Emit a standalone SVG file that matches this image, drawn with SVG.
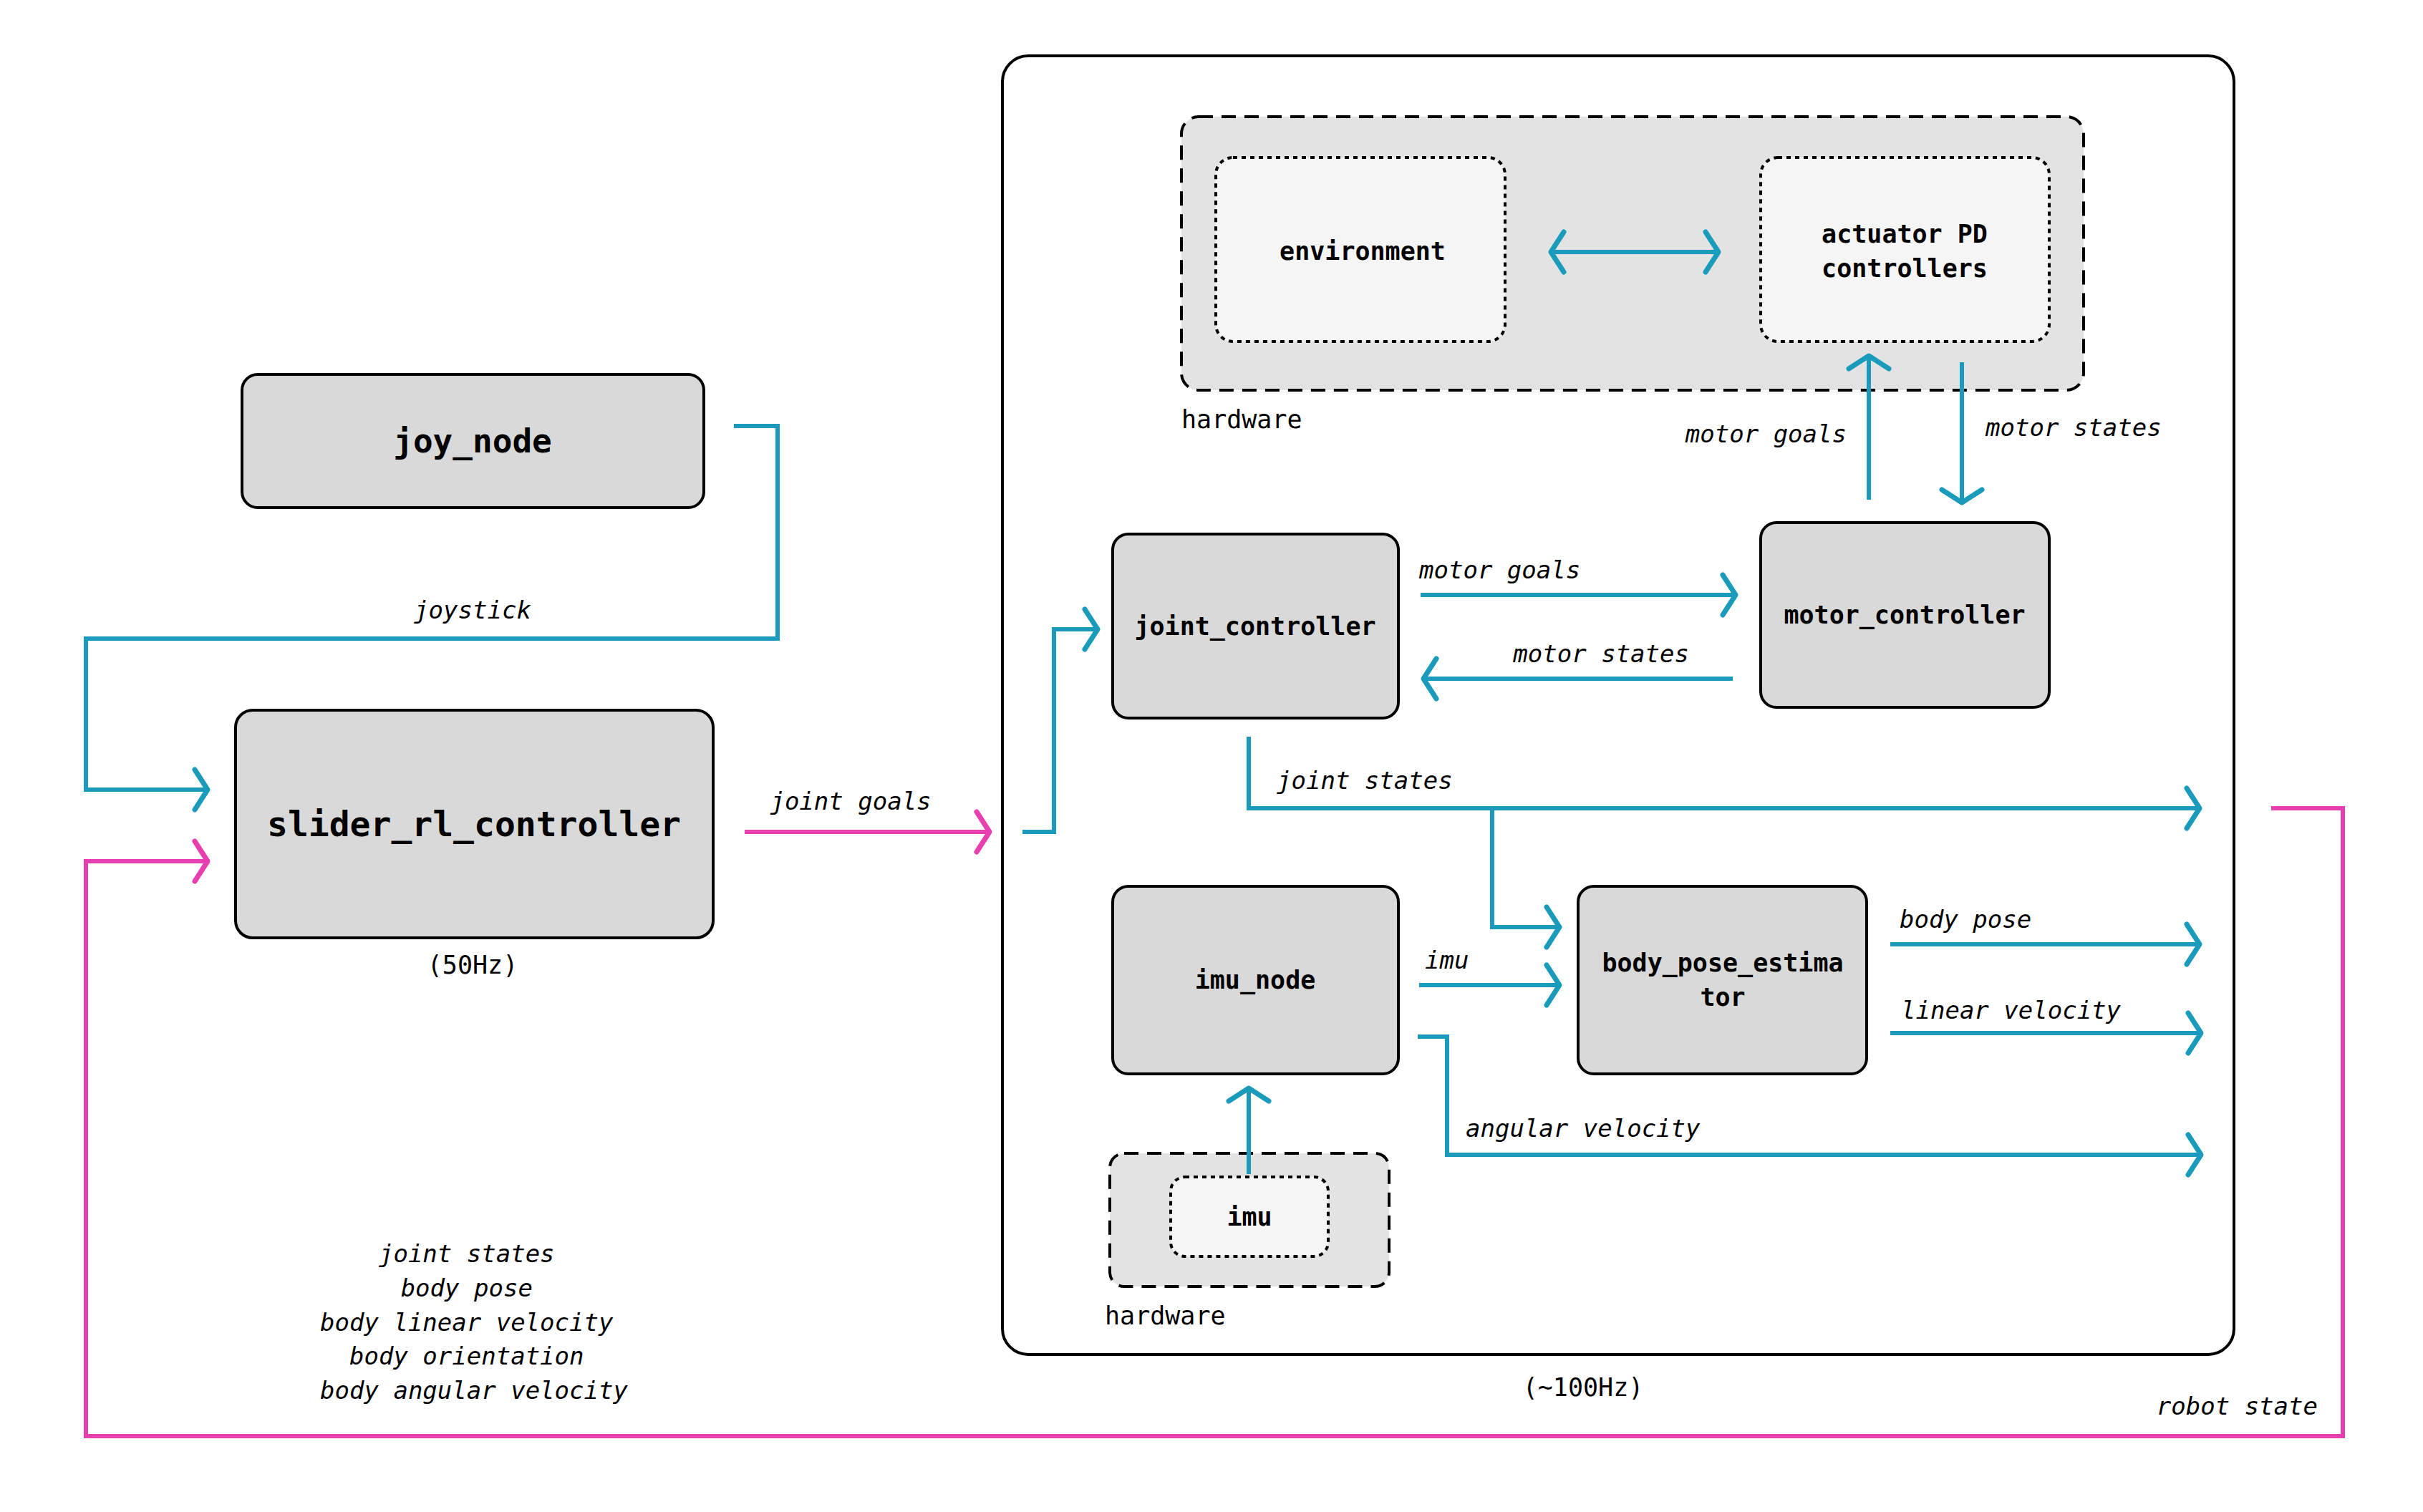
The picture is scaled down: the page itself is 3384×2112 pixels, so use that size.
<svg xmlns="http://www.w3.org/2000/svg" width="3384" height="2112" viewBox="0 0 3384 2112">
<style>
.node{fill:#d9d9d9;stroke:#000;stroke-width:4}
.nt{font-family:"DejaVu Sans Mono","Liberation Mono",monospace;font-weight:bold;font-size:35px;text-anchor:middle;fill:#000}
.lb{font-family:"DejaVu Sans Mono","Liberation Mono",monospace;font-style:italic;font-size:34px;fill:#000}
.pl{font-family:"DejaVu Sans Mono","Liberation Mono",monospace;font-size:35px;fill:#000}
.b{fill:none;stroke:#1b9bbb;stroke-width:6}
.p{fill:none;stroke:#e83fb0;stroke-width:6}
</style>
<defs>
<marker id="ab" markerUnits="userSpaceOnUse" markerWidth="60" markerHeight="60" viewBox="-40 -30 50 60" refX="0" refY="0" orient="auto-start-reverse" overflow="visible"><path d="M-18,-28 L0,0 L-18,28" fill="none" stroke="#1b9bbb" stroke-width="7" stroke-linecap="round" stroke-linejoin="round"/></marker>
<marker id="ap" markerUnits="userSpaceOnUse" markerWidth="60" markerHeight="60" viewBox="-40 -30 50 60" refX="0" refY="0" orient="auto" overflow="visible"><path d="M-18,-28 L0,0 L-18,28" fill="none" stroke="#e83fb0" stroke-width="7" stroke-linecap="round" stroke-linejoin="round"/></marker>
</defs>
<rect width="3384" height="2112" fill="#fff"/>
<g id="main-container">
<rect x="1400" y="78" width="1720" height="1814" rx="36" fill="#fff" stroke="#000" stroke-width="4"/>
<text class="pl" x="2211" y="1950" text-anchor="middle">(~100Hz)</text>
</g>
<g id="hardware-top">
<rect x="1650" y="163" width="1260" height="382" rx="24" fill="#e3e3e3" stroke="#000" stroke-width="4" stroke-dasharray="20,12"/>
<text class="pl" x="1650" y="598">hardware</text>
</g>
<g id="environment">
<rect x="1698" y="220" width="404" height="257" rx="24" fill="#f5f5f5" stroke="#000" stroke-width="4" stroke-dasharray="6,6"/>
<text class="nt" x="1903" y="363">environment</text>
</g>
<g id="actuator">
<rect x="2459" y="220" width="403" height="257" rx="24" fill="#f5f5f5" stroke="#000" stroke-width="4" stroke-dasharray="6,6"/>
<text class="nt" x="2660" y="339">actuator PD</text>
<text class="nt" x="2660" y="387">controllers</text>
</g>
<g id="hardware-imu">
<rect x="1550" y="1611" width="390" height="186" rx="20" fill="#e3e3e3" stroke="#000" stroke-width="4" stroke-dasharray="20,12"/>
<text class="pl" x="1543" y="1850">hardware</text>
</g>
<g id="imu">
<rect x="1635" y="1644" width="220" height="111" rx="20" fill="#f5f5f5" stroke="#000" stroke-width="4" stroke-dasharray="6,6"/>
<text class="nt" x="1745" y="1712">imu</text>
</g>
<g id="joy_node">
<rect class="node" x="338" y="523" width="645" height="186" rx="22"/>
<text class="nt" x="660" y="632" style="font-size:46px">joy_node</text>
</g>
<g id="slider_rl_controller">
<rect class="node" x="329" y="992" width="667" height="318" rx="24"/>
<text class="nt" x="662" y="1168" style="font-size:48px">slider_rl_controller</text>
<text class="pl" x="660" y="1360" text-anchor="middle">(50Hz)</text>
</g>
<g id="joint_controller">
<rect class="node" x="1554" y="746" width="399" height="257" rx="22"/>
<text class="nt" x="1753" y="887">joint_controller</text>
</g>
<g id="motor_controller">
<rect class="node" x="2459" y="730" width="403" height="258" rx="22"/>
<text class="nt" x="2660" y="871">motor_controller</text>
</g>
<g id="imu_node">
<rect class="node" x="1554" y="1238" width="399" height="262" rx="22"/>
<text class="nt" x="1753" y="1381">imu_node</text>
</g>
<g id="body_pose_estimator">
<rect class="node" x="2204" y="1238" width="403" height="262" rx="22"/>
<text class="nt" x="2406" y="1357">body_pose_estima</text>
<text class="nt" x="2406" y="1405">tor</text>
</g>
<g id="connectors">
<path class="b" d="M1025,595 H1086 V892 H120 V1103 H290" marker-end="url(#ab)"/>
<text class="lb" x="660" y="864" text-anchor="middle">joystick</text>
<path class="p" d="M1040,1162 H1382" marker-end="url(#ap)"/>
<text class="lb" x="1188" y="1131" text-anchor="middle">joint goals</text>
<path class="b" d="M1428,1162 H1472 V879 H1533" marker-end="url(#ab)"/>
<path class="b" d="M2166,352 H2400" marker-start="url(#ab)" marker-end="url(#ab)"/>
<path class="b" d="M2610,698 V497" marker-end="url(#ab)"/>
<text class="lb" x="2579" y="618" text-anchor="end">motor goals</text>
<path class="b" d="M2740,506 V702" marker-end="url(#ab)"/>
<text class="lb" x="2773" y="609">motor states</text>
<path class="b" d="M1984,831 H2424" marker-end="url(#ab)"/>
<text class="lb" x="1982" y="808">motor goals</text>
<path class="b" d="M2420,948 H1988" marker-end="url(#ab)"/>
<text class="lb" x="2359" y="925" text-anchor="end">motor states</text>
<path class="b" d="M1744,1029 V1129 H3072" marker-end="url(#ab)"/>
<text class="lb" x="1783" y="1102">joint states</text>
<path class="b" d="M2084,1129 V1295 H2178" marker-end="url(#ab)"/>
<path class="b" d="M1982,1376 H2178" marker-end="url(#ab)"/>
<text class="lb" x="1990" y="1353">imu</text>
<path class="b" d="M2640,1319 H3072" marker-end="url(#ab)"/>
<text class="lb" x="2653" y="1296">body pose</text>
<path class="b" d="M2640,1443 H3074" marker-end="url(#ab)"/>
<text class="lb" x="2655" y="1423">linear velocity</text>
<path class="b" d="M1980,1448 H2021 V1613 H3074" marker-end="url(#ab)"/>
<text class="lb" x="2047" y="1588">angular velocity</text>
<path class="b" d="M1744,1640 V1520" marker-end="url(#ab)"/>
<path class="p" d="M3172,1129 H3272 V2006 H120 V1203 H290" marker-end="url(#ap)"/>
<text class="lb" x="3237" y="1976" text-anchor="end">robot state</text>
<text class="lb" text-anchor="middle">
<tspan x="662" y="1763">joint states</tspan>
<tspan x="662" y="1811">body pose</tspan>
<tspan x="662" y="1859">body linear velocity</tspan>
<tspan x="662" y="1906">body orientation</tspan>
<tspan x="662" y="1954">body angular velocity</tspan>
</text>
</g>
</svg>
